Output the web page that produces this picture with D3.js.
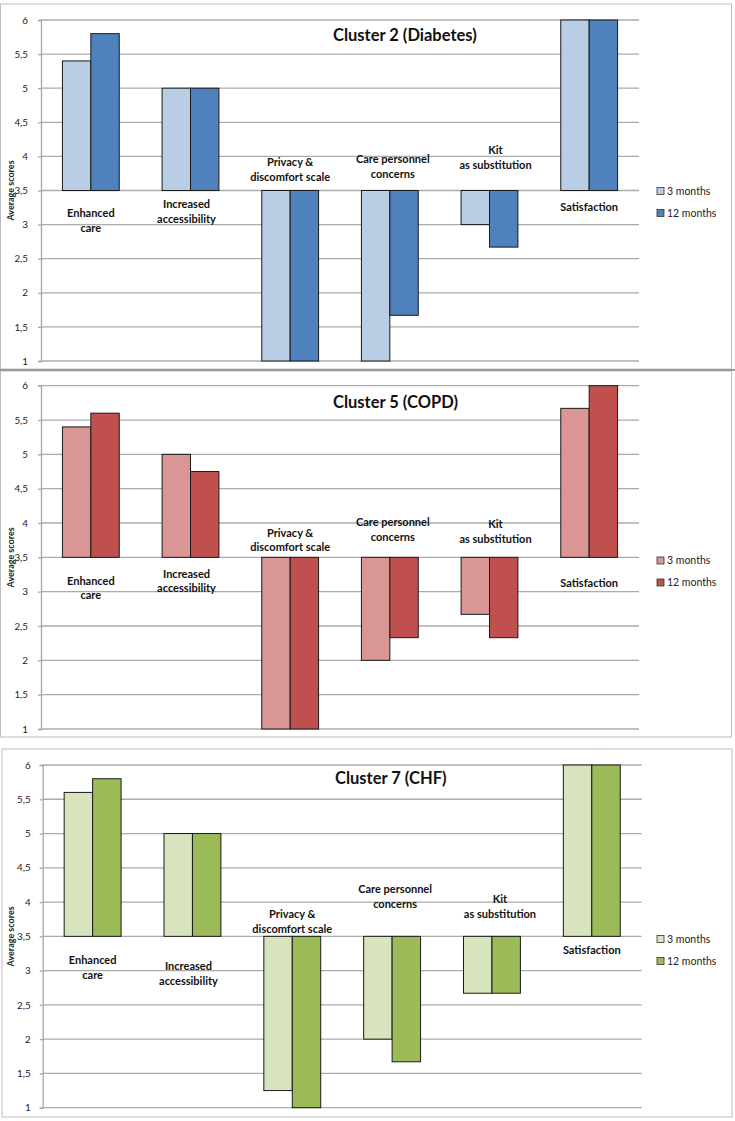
<!DOCTYPE html>
<html>
<head>
<meta charset="utf-8">
<script src="https://cdn.jsdelivr.net/npm/d3@7"></script>
<style>
  html, body { margin: 0; padding: 0; background: #fff; }
  svg { display: block; }
</style>
</head>
<body>
<svg id="chart" width="735" height="1121"></svg>
<script>
// ---------------- DATA ----------------
const categories = ["Enhanced care", "Increased accessibility", "Privacy & discomfort scale",
                    "Care personnel concerns", "Kit as substitution", "Satisfaction"];
const categoryLines = [["Enhanced", "care"], ["Increased", "accessibility"], ["Privacy &", "discomfort scale"],
                       ["Care personnel", "concerns"], ["Kit", "as substitution"], ["Satisfaction"]];
const seriesNames = ["3 months", "12 months"];

const diabetes3  = [5.4, 5.0, 1.0, 1.0, 3.0, 6.0];
const diabetes12 = [5.8, 5.0, 1.0, 1.67, 2.67, 6.0];
const copd3      = [5.4, 5.0, 1.0, 2.0, 2.67, 5.67];
const copd12     = [5.6, 4.75, 1.0, 2.33, 2.33, 6.0];
const chf3       = [5.6, 5.0, 1.25, 2.0, 2.67, 6.0];
const chf12      = [5.8, 5.0, 1.0, 1.67, 2.67, 6.0];

const yTicks = [1, 1.5, 2, 2.5, 3, 3.5, 4, 4.5, 5, 5.5, 6];
const yTickLabels = ["1", "1,5", "2", "2,5", "3", "3,5", "4", "4,5", "5", "5,5", "6"];
const baseline = 3.5;
const yDomain = [1, 6];
const titles = ["Cluster 2 (Diabetes)", "Cluster 5 (COPD)", "Cluster 7 (CHF)"];
const yAxisTitle = "Average scores";

// ---------------- LAYOUT ----------------
const panels = [
  { title: titles[0], s3: diabetes3, s12: diabetes12, c3: "#B9CDE5", c12: "#4F81BD",
    box: [0.5, 4, 731.5, 369], plot: [41, 20, 639, 361], titleX: 333, titleY: 35,
    labelDy: [23, 14, -28, -31, -40, 17], labelDx: [0, -4, 0, 3, 6, 0], legendY: 191, tickPad: 10 },
  { title: titles[1], s3: copd3, s12: copd12, c3: "#D99694", c12: "#C0504D",
    box: [0.5, 371, 731.5, 737], plot: [41, 385.7, 639, 729], titleX: 333, titleY: 402,
    labelDy: [23.5, 16.5, -24.5, -35, -33, 26], labelDx: [0, -4, 0, 3, 6, 0], legendY: 560.5, tickPad: 10 },
  { title: titles[2], s3: chf3, s12: chf12, c3: "#D7E4BD", c12: "#9BBB59",
    box: [2, 749, 732, 1117], plot: [42.7, 765, 641.7, 1107.7], titleX: 335, titleY: 778,
    labelDy: [24, 30, -22, -47, -37, 14], labelDx: [0, -4, 0, 3, 8, 0], legendY: 939, tickPad: 9 }
];

const svg = d3.select("#chart");
const FONT = "Lato, 'Open Sans', sans-serif";

// panel borders
panels.forEach(p => {
  const [x0, y0, x1, y1] = p.box;
  svg.append("rect").attr("x", x0).attr("y", y0).attr("width", x1 - x0).attr("height", y1 - y0)
    .attr("fill", "#fff").attr("stroke", "#bdbdbd").attr("stroke-width", 1);
});
// thicker divider between panel 1 and 2
svg.append("line").attr("x1", 0).attr("x2", 735).attr("y1", 370).attr("y2", 370)
  .attr("stroke", "#9a9a9a").attr("stroke-width", 2);

panels.forEach(p => {
  const [px0, py0, px1, py1] = p.plot;
  const g = svg.append("g");
  const y = d3.scaleLinear().domain(yDomain).range([py1, py0]);
  const x = d3.scaleBand().domain(categories).range([px0, px1]).paddingInner(0.43).paddingOuter(0.215);
  const xs = d3.scaleBand().domain(seriesNames).range([0, x.bandwidth()]);

  // gridlines
  g.append("g").selectAll("line").data(yTicks).join("line")
    .attr("x1", px0).attr("x2", px1)
    .attr("y1", d => y(d)).attr("y2", d => y(d))
    .attr("stroke", "#ababab").attr("stroke-width", 1.3);

  // y axis
  const axis = d3.axisLeft(y).tickValues(yTicks).tickFormat((d, i) => yTickLabels[i])
    .tickSize(3).tickPadding(p.tickPad);
  const ag = g.append("g").attr("transform", `translate(${px0},0)`).call(axis);
  ag.select(".domain").attr("stroke", "#a6a6a6").attr("stroke-width", 1.3);
  ag.selectAll(".tick line").attr("stroke", "#a6a6a6").attr("stroke-width", 1.3);
  ag.selectAll(".tick text").attr("font-family", FONT).attr("font-size", 9.8).attr("fill", "#222");

  // y axis title
  g.append("text").attr("transform", `translate(14,${y(baseline)}) rotate(-90)`)
    .attr("text-anchor", "middle").attr("font-family", FONT).attr("font-weight", 700)
    .attr("font-size", 9).attr("fill", "#222").text(yAxisTitle);

  // bars
  const rows = [];
  categories.forEach((c, i) => {
    rows.push({ cat: c, s: seriesNames[0], v: p.s3[i], color: p.c3 });
    rows.push({ cat: c, s: seriesNames[1], v: p.s12[i], color: p.c12 });
  });
  g.append("g").selectAll("rect").data(rows).join("rect")
    .attr("x", d => x(d.cat) + xs(d.s))
    .attr("width", xs.bandwidth())
    .attr("y", d => Math.min(y(d.v), y(baseline)))
    .attr("height", d => Math.abs(y(d.v) - y(baseline)))
    .attr("fill", d => d.color).attr("stroke", "#1a1a1a").attr("stroke-width", 1);

  // category labels
  categories.forEach((c, i) => {
    const cx = x(c) + x.bandwidth() / 2 + p.labelDx[i];
    const lines = categoryLines[i];
    const t = g.append("text").attr("text-anchor", "middle").attr("font-family", FONT)
      .attr("font-weight", 700).attr("font-size", 11).attr("fill", "#111");
    lines.forEach((ln, k) => {
      t.append("tspan").attr("x", cx).attr("y", y(baseline) + p.labelDy[i] + k * 14.3)
        .attr("dy", "0.35em").text(ln);
    });
  });

  // title
  g.append("text").attr("x", p.titleX).attr("y", p.titleY).attr("dy", "0.35em")
    .attr("font-family", FONT).attr("font-weight", 700).attr("font-size", 16.5).attr("fill", "#111")
    .text(p.title);

  // legend
  const lg = g.append("g");
  [[seriesNames[0], p.c3], [seriesNames[1], p.c12]].forEach(([name, col], k) => {
    const ly = p.legendY + k * 22;
    lg.append("rect").attr("x", 657).attr("y", ly - 3.5).attr("width", 7).attr("height", 7)
      .attr("fill", col).attr("stroke", "#333").attr("stroke-width", 0.8);
    lg.append("text").attr("x", 667).attr("y", ly).attr("dy", "0.35em")
      .attr("font-family", FONT).attr("font-size", 10.5).attr("fill", "#222").text(name);
  });
});
</script>
</body>
</html>
